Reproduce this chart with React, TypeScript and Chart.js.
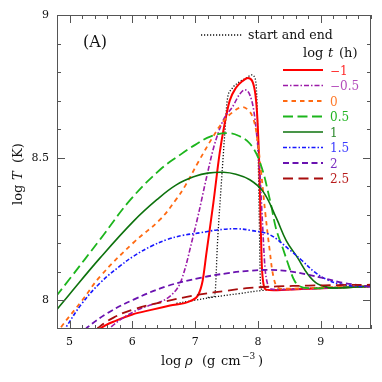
import React, { useEffect, useRef } from "react";
import { Chart, registerables } from "chart.js";

Chart.register(...registerables);

const FONT = '"DejaVu Serif", "Liberation Serif", serif';

// axes
const xMin = 4.8;
const xMax = 9.8;
const yMin = 7.9;
const yMax = 9;
const xTickLabels = [5, 6, 7, 8, 9];
const yTickLabels = [8, 8.5, 9];

// legend labels (log t in hours)
const seriesLabels = ["−1", "−0.5", "0", "0.5", "1", "1.5", "2", "2.5"];

// log t = -1
const rhoM1 = [5.40, 5.50, 5.75, 6.00, 6.30, 6.60, 6.92, 7.05, 7.12, 7.18, 7.29, 7.39, 7.47, 7.55, 7.65, 7.75, 7.84, 7.91, 7.96, 7.99, 8.02, 8.04, 8.06, 8.09, 8.13, 8.25, 8.70, 9.30, 9.80];
const tM1 = [7.88, 7.903, 7.93, 7.951, 7.967, 7.982, 7.998, 8.02, 8.07, 8.167, 8.342, 8.516, 8.62, 8.70, 8.745, 8.768, 8.779, 8.768, 8.72, 8.64, 8.48, 8.30, 8.13, 8.055, 8.038, 8.036, 8.04, 8.045, 8.05];
// log t = -0.5
const rhoM05 = [5.55, 5.65, 6.00, 6.30, 6.50, 6.65, 6.76, 6.85, 6.94, 7.05, 7.18, 7.30, 7.45, 7.60, 7.70, 7.79, 7.87, 7.93, 7.98, 8.03, 8.07, 8.11, 8.15, 8.21, 8.30, 8.70, 9.30, 9.80];
const tM05 = [7.88, 7.905, 7.958, 7.985, 8.0, 8.025, 8.06, 8.12, 8.20, 8.30, 8.43, 8.54, 8.633, 8.68, 8.72, 8.738, 8.72, 8.67, 8.58, 8.45, 8.28, 8.12, 8.06, 8.04, 8.038, 8.04, 8.045, 8.05];
// log t = 0
const rho0 = [4.80, 4.86, 5.20, 5.49, 6.02, 6.44, 6.70, 6.85, 7.05, 7.28, 7.45, 7.60, 7.74, 7.84, 7.92, 7.98, 8.05, 8.12, 8.19, 8.25, 8.32, 8.45, 9.00, 9.80];
const t0 = [7.88, 7.905, 8.00, 8.085, 8.203, 8.283, 8.355, 8.405, 8.485, 8.572, 8.628, 8.66, 8.677, 8.668, 8.64, 8.58, 8.45, 8.30, 8.17, 8.08, 8.045, 8.041, 8.045, 8.05];
// log t = 0.5
const rho05 = [4.78, 5.00, 5.49, 5.97, 6.44, 6.76, 7.00, 7.25, 7.52, 7.70, 7.87, 8.03, 8.19, 8.29, 8.40, 8.50, 8.58, 8.66, 8.80, 9.30, 9.80];
const t05 = [8.013, 8.075, 8.215, 8.353, 8.458, 8.51, 8.545, 8.575, 8.586, 8.576, 8.55, 8.485, 8.353, 8.25, 8.18, 8.115, 8.07, 8.05, 8.043, 8.045, 8.05];
// log t = 1
const rho1 = [4.78, 5.00, 5.49, 6.02, 6.39, 6.70, 7.00, 7.20, 7.45, 7.65, 7.87, 8.08, 8.29, 8.45, 8.63, 8.80, 8.95, 9.14, 9.40, 9.80];
const t1 = [7.963, 8.022, 8.15, 8.278, 8.353, 8.405, 8.435, 8.446, 8.449, 8.442, 8.423, 8.382, 8.29, 8.21, 8.15, 8.09, 8.058, 8.045, 8.045, 8.05];
// log t = 1.5
const rho15 = [4.90, 4.94, 5.20, 5.49, 5.80, 6.02, 6.30, 6.55, 6.80, 7.08, 7.35, 7.66, 7.90, 8.19, 8.50, 8.70, 8.90, 9.08, 9.30, 9.55, 9.80];
const t15 = [7.89, 7.905, 7.99, 8.062, 8.12, 8.155, 8.19, 8.213, 8.228, 8.237, 8.247, 8.251, 8.245, 8.23, 8.178, 8.14, 8.10, 8.075, 8.058, 8.05, 8.049];
// log t = 2
const rho2 = [5.25, 5.28, 5.60, 6.02, 6.55, 7.08, 7.50, 7.87, 8.20, 8.50, 8.80, 9.03, 9.35, 9.80];
const t2 = [7.895, 7.905, 7.955, 8.003, 8.05, 8.079, 8.095, 8.104, 8.107, 8.102, 8.09, 8.079, 8.062, 8.048];
// log t = 2.5
const rho25 = [5.43, 5.46, 5.70, 6.02, 6.55, 7.08, 7.50, 7.87, 8.30, 8.80, 9.30, 9.80];
const t25 = [7.895, 7.905, 7.94, 7.969, 7.998, 8.021, 8.034, 8.044, 8.049, 8.052, 8.054, 8.055];
// start and end profiles
const rhoStart = [7.20, 7.31, 7.36, 7.42, 7.47, 7.51, 7.58, 7.70, 7.82, 7.90, 7.95, 7.98, 8.00, 8.02, 8.04, 8.07];
const tStart = [8.011, 8.015, 8.22, 8.42, 8.58, 8.70, 8.74, 8.765, 8.78, 8.79, 8.78, 8.72, 8.55, 8.30, 8.06, 8.035];
const rhoEnd = [6.70, 6.90, 7.30, 7.70, 8.07, 8.50, 9.00, 9.80];
const tEnd = [7.99, 7.997, 8.012, 8.024, 8.035, 8.04, 8.044, 8.048];

const curves = [
  [rhoM1, tM1], [rhoM05, tM05], [rho0, t0], [rho05, t05],
  [rho1, t1], [rho15, t15], [rho2, t2], [rho25, t25],
];

const lineColors = ["#ff0000", "#9b1aa8", "#ff6a12", "#1cb51c", "#0d720d", "#1717ff", "#6a12b0", "#a80d0d"];
const labelColors = ["#ff2a2a", "#b44cbc", "#ff7a2a", "#22b422", "#2e8a2e", "#3b3bff", "#7a2ec0", "#b81c1c"];
const dashes = [[], [5, 2, 1.5, 2], [4.5, 4], [10, 4.5], [], [4, 2, 1.5, 2], [6, 3.5], [10, 5.5]];
const widths = [2, 1.6, 1.8, 1.8, 1.6, 1.6, 1.8, 1.8];
const monotone = [true, true, false, false, false, false, false, false];
const DOT_COLOR = "#111";
const DOT_DASH = [1.2, 1.8];
const FRAME = "#555";

const toPts = (xs: number[], ys: number[]) => xs.map((x, i) => ({ x, y: ys[i] }));

const decor = {
  id: "decor",
  afterDraw(chart: any) {
    const { ctx, chartArea: a, scales } = chart;
    const xs = scales.x;
    const ys = scales.y;
    ctx.save();
    // frame
    ctx.setLineDash([]);
    ctx.strokeStyle = FRAME;
    ctx.lineWidth = 1;
    ctx.strokeRect(a.left + 0.5, a.top + 0.5, a.right - a.left - 1, a.bottom - a.top - 1);
    // x ticks (every 0.2)
    ctx.beginPath();
    for (let i = 24; i <= 49; i++) {
      const v = i / 5;
      const len = i % 5 === 0 ? 8 : 4;
      const px = Math.round(xs.getPixelForValue(v)) + 0.5;
      ctx.moveTo(px, a.bottom);
      ctx.lineTo(px, a.bottom - len);
      ctx.moveTo(px, a.top);
      ctx.lineTo(px, a.top + len);
    }
    // y ticks (every 0.1)
    for (let i = 80; i <= 89; i++) {
      const v = i / 10;
      const len = i % 5 === 0 ? 8 : 4;
      const py = Math.round(ys.getPixelForValue(v)) + 0.5;
      ctx.moveTo(a.left, py);
      ctx.lineTo(a.left + len, py);
      ctx.moveTo(a.right, py);
      ctx.lineTo(a.right - len, py);
    }
    ctx.stroke();

    ctx.fillStyle = "#111";
    ctx.textBaseline = "alphabetic";
    ctx.textAlign = "left";

    // panel label
    ctx.font = `16px ${FONT}`;
    ctx.fillText("(A)", a.left + 26, a.top + 32);

    // x-axis title
    const cx = (a.left + a.right) / 2;
    const bx = cx - 53;
    const by = a.bottom + 36;
    ctx.font = `13px ${FONT}`;
    ctx.fillText("log", bx, by);
    ctx.font = `italic 13px ${FONT}`;
    ctx.fillText("ρ", bx + 24, by);
    ctx.font = `13px ${FONT}`;
    ctx.fillText("(g", bx + 41, by);
    ctx.fillText("cm", bx + 60, by);
    ctx.font = `9px ${FONT}`;
    ctx.fillText("−3", bx + 81, by - 6);
    ctx.font = `13px ${FONT}`;
    ctx.fillText(")", bx + 97, by);

    // y-axis title (rotated)
    const cy = (a.top + a.bottom) / 2;
    ctx.save();
    ctx.translate(a.left - 35, cy + 33);
    ctx.rotate(-Math.PI / 2);
    ctx.font = `13px ${FONT}`;
    ctx.fillText("log", 0, 0);
    ctx.font = `italic 13px ${FONT}`;
    ctx.fillText("T", 25, 0);
    ctx.font = `13px ${FONT}`;
    ctx.fillText("(K)", 42, 0);
    ctx.restore();

    // legend: start and end
    ctx.lineWidth = 1.3;
    ctx.strokeStyle = DOT_COLOR;
    ctx.setLineDash(DOT_DASH);
    ctx.beginPath();
    ctx.moveTo(a.right - 170, a.top + 20);
    ctx.lineTo(a.right - 129, a.top + 20);
    ctx.stroke();
    ctx.setLineDash([]);
    ctx.font = `12.5px ${FONT}`;
    ctx.fillStyle = "#111";
    ctx.fillText("start and end", a.right - 123, a.top + 24);

    // legend header
    const hx = a.right - 68;
    const hy = a.top + 42;
    ctx.font = `13px ${FONT}`;
    ctx.fillText("log", hx, hy);
    ctx.font = `italic 13px ${FONT}`;
    ctx.fillText("t", hx + 25, hy);
    ctx.font = `13px ${FONT}`;
    ctx.fillText("(h)", hx + 36, hy);

    // legend items
    seriesLabels.forEach((lab, i) => {
      const y = a.top + 55 + 15.5 * i;
      ctx.strokeStyle = lineColors[i];
      ctx.lineWidth = widths[i];
      ctx.setLineDash(dashes[i]);
      ctx.beginPath();
      ctx.moveTo(a.right - 88, y);
      ctx.lineTo(a.right - 48, y);
      ctx.stroke();
      ctx.setLineDash([]);
      ctx.fillStyle = labelColors[i];
      ctx.font = `12px ${FONT}`;
      ctx.fillText(lab, a.right - 41, y + 4.5);
    });
    ctx.restore();
  },
};

export default function App() {
  const ref = useRef<HTMLCanvasElement>(null);
  useEffect(() => {
    const canvas = ref.current;
    if (!canvas) return;
    const datasets: any[] = curves.map((c, i) => ({
      label: seriesLabels[i],
      data: toPts(c[0], c[1]),
      borderColor: lineColors[i],
      borderWidth: widths[i],
      borderDash: dashes[i],
      pointRadius: 0,
      fill: false,
      cubicInterpolationMode: monotone[i] ? "monotone" : "default",
      tension: 0.4,
      order: 50 - i,
    }));
    datasets.push({
      label: "start",
      data: toPts(rhoStart, tStart),
      borderColor: DOT_COLOR,
      borderWidth: 1.3,
      borderDash: DOT_DASH,
      pointRadius: 0,
      fill: false,
      cubicInterpolationMode: "monotone",
      order: 100,
    });
    datasets.push({
      label: "end",
      data: toPts(rhoEnd, tEnd),
      borderColor: DOT_COLOR,
      borderWidth: 1.3,
      borderDash: DOT_DASH,
      pointRadius: 0,
      fill: false,
      tension: 0.4,
      order: 100,
    });

    const tickFont = { family: FONT, size: 11 };
    const chart = new Chart(canvas, {
      type: "line",
      data: { datasets },
      options: {
        responsive: false,
        animation: false,
        devicePixelRatio: 1,
        events: [],
        layout: { padding: { top: 15, right: 11, left: 0, bottom: 0 } },
        plugins: { legend: { display: false }, tooltip: { enabled: false } },
        scales: {
          x: {
            type: "linear",
            min: xMin,
            max: xMax,
            grid: { display: false, drawTicks: false },
            border: { display: false },
            ticks: { color: "#111", font: tickFont, padding: 7, maxRotation: 0, autoSkip: false, callback: (v: any) => String(v) },
            afterBuildTicks: (s: any) => { s.ticks = xTickLabels.map((v) => ({ value: v })); },
            afterFit: (s: any) => { s.height = 53; },
          },
          y: {
            type: "linear",
            min: yMin,
            max: yMax,
            grid: { display: false, drawTicks: false },
            border: { display: false },
            ticks: { color: "#111", font: tickFont, padding: 8, autoSkip: false, callback: (v: any) => String(v) },
            afterBuildTicks: (s: any) => { s.ticks = yTickLabels.map((v) => ({ value: v })); },
            afterFit: (s: any) => { s.width = 57; },
          },
        },
      } as any,
      plugins: [decor],
    });
    return () => chart.destroy();
  }, []);
  return (
    <div style={{ position: "fixed", left: 0, top: 0, width: 382, height: 382, background: "#fff" }}>
      <canvas ref={ref} width={382} height={382} style={{ display: "block", width: 382, height: 382 }} />
    </div>
  );
}
